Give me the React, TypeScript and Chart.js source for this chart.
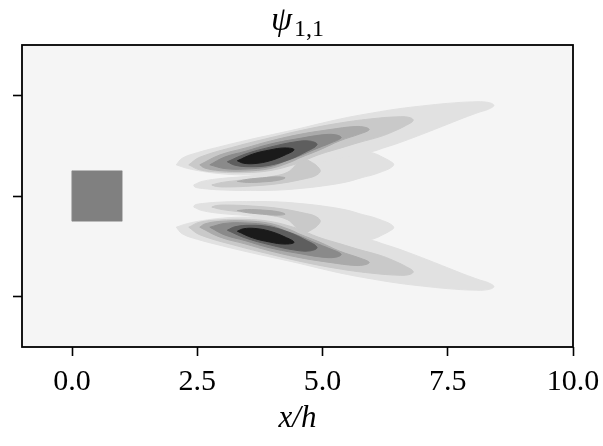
import React, { useEffect, useRef } from 'react';
import { Chart, registerables } from 'chart.js';

Chart.register(...registerables);

type Pt = [number, number];

// ---- axes ----
const X_MIN = -1;
const X_MAX = 10;
const Y_MIN = -3;
const Y_MAX = 3;
const xTickValues = [0, 2.5, 5, 7.5, 10];
const yTickValues = [-2, 0, 2];
const xAxisLabel = 'x/h';
const titleSymbol = 'ψ';
const titleSubscript = '1,1';

// ---- square cylinder ----
const bodyOutline: Pt[] = [[0, -0.5], [1, -0.5], [1, 0.5], [0, 0.5], [0, -0.5]];
const bodyColor = '#808080';

// ---- contour level colours (outer -> inner) ----
const fieldBackground = '#f5f5f5';
const levelColors = ['#e1e1e1', '#c9c9c9', '#aaaaaa', '#8a8a8a', '#5e5e5e', '#1a1a1a'];

// ---- upper lobe contour outlines (x/h, y/h) ----
const armL1: Pt[] = [
  [2.08, 0.62], [2.2, 0.75], [2.5, 0.86], [3.0, 0.99], [3.5, 1.11], [4.0, 1.22], [4.5, 1.33],
  [5.0, 1.45], [5.5, 1.56], [6.0, 1.65], [6.5, 1.73], [7.0, 1.79], [7.5, 1.84], [8.0, 1.87],
  [8.3, 1.86], [8.42, 1.8], [8.3, 1.72], [8.14, 1.67], [7.81, 1.55], [7.48, 1.42], [7.15, 1.29],
  [6.81, 1.16], [6.48, 1.04], [6.2, 0.95], [6.02, 0.89], [5.6, 0.8], [5.0, 0.68], [4.5, 0.56],
  [4.0, 0.45], [3.5, 0.42], [3.0, 0.44], [2.6, 0.49], [2.3, 0.55], [2.08, 0.62],
];
const fingerL1: Pt[] = [
  [2.43, 0.22], [2.6, 0.29], [3.0, 0.35], [3.5, 0.39], [4.0, 0.46], [4.5, 0.56], [5.0, 0.68],
  [5.5, 0.8], [5.9, 0.87], [6.05, 0.84], [6.2, 0.77], [6.35, 0.69], [6.42, 0.63], [6.36, 0.56],
  [6.2, 0.49], [6.0, 0.42], [5.8, 0.37], [5.48, 0.28], [5.0, 0.2], [4.55, 0.15], [4.15, 0.12],
  [3.66, 0.11], [3.0, 0.12], [2.6, 0.15], [2.45, 0.18], [2.43, 0.22],
];
const armL2: Pt[] = [
  [2.33, 0.62], [2.55, 0.77], [3.29, 0.99], [3.95, 1.155], [4.61, 1.31], [5.29, 1.44], [5.95, 1.53],
  [6.55, 1.575], [6.75, 1.555], [6.81, 1.5], [6.68, 1.41], [6.41, 1.28], [6.15, 1.18], [5.75, 1.07],
  [5.35, 0.95], [4.95, 0.83], [4.65, 0.71], [4.45, 0.63], [3.95, 0.505], [3.45, 0.465], [2.95, 0.475],
  [2.55, 0.52], [2.33, 0.62],
];
const fingerL2: Pt[] = [
  [2.79, 0.22], [3.0, 0.27], [3.5, 0.33], [4.0, 0.39], [4.3, 0.47], [4.45, 0.6], [4.6, 0.73],
  [4.8, 0.66], [4.93, 0.55], [4.95, 0.48], [4.85, 0.4], [4.68, 0.35], [4.15, 0.25], [3.6, 0.2],
  [3.1, 0.18], [2.88, 0.19], [2.79, 0.22],
];
const armL3: Pt[] = [
  [2.55, 0.62], [2.95, 0.815], [3.45, 0.95], [3.95, 1.09], [4.55, 1.225], [5.15, 1.32], [5.65, 1.38],
  [5.87, 1.36], [5.93, 1.315], [5.75, 1.235], [5.35, 1.1], [4.95, 0.92], [4.55, 0.76],
  [4.35, 0.67], [3.95, 0.545], [3.45, 0.495], [2.95, 0.505], [2.65, 0.555], [2.55, 0.62],
];
const fingerL3: Pt[] = [
  [3.3, 0.29], [3.5, 0.33], [3.8, 0.36], [4.1, 0.38], [4.25, 0.36], [4.1, 0.31], [3.8, 0.28],
  [3.5, 0.27], [3.3, 0.29],
];
const armL4: Pt[] = [
  [2.75, 0.62], [3.05, 0.775], [3.45, 0.885], [3.95, 1.03], [4.55, 1.145], [5.05, 1.22],
  [5.29, 1.21], [5.37, 1.155], [5.15, 1.05], [4.85, 0.93], [4.55, 0.8], [4.25, 0.69],
  [3.95, 0.585], [3.45, 0.535], [3.05, 0.545], [2.75, 0.62],
];
const armL5: Pt[] = [
  [3.1, 0.68], [3.45, 0.83], [3.95, 0.97], [4.45, 1.075], [4.75, 1.09], [4.89, 1.02],
  [4.65, 0.87], [4.35, 0.73], [3.95, 0.612], [3.55, 0.582], [3.25, 0.612], [3.1, 0.68],
];
const armL6: Pt[] = [
  [3.3, 0.7], [3.6, 0.83], [3.95, 0.915], [4.25, 0.955], [4.43, 0.92], [4.25, 0.815],
  [3.95, 0.7], [3.65, 0.645], [3.42, 0.652], [3.3, 0.7],
];

const upperLobe: { level: number; pts: Pt[] }[] = [
  { level: 0, pts: armL1 },
  { level: 0, pts: fingerL1 },
  { level: 1, pts: armL2 },
  { level: 1, pts: fingerL2 },
  { level: 2, pts: armL3 },
  { level: 2, pts: fingerL3 },
  { level: 3, pts: armL4 },
  { level: 4, pts: armL5 },
  { level: 5, pts: armL6 },
];
// the mode is mirror-symmetric in magnitude about y = 0
const lowerLobe = upperLobe.map((s) => ({ level: s.level, pts: s.pts.map(([x, y]) => [x, -y] as Pt) }));

const FONT = '"Liberation Serif", "Times New Roman", serif';

export default function App() {
  const ref = useRef<HTMLCanvasElement>(null);

  useEffect(() => {
    if (!ref.current) return;

    const shapeDatasets = [...upperLobe, ...lowerLobe].map((s) => ({
      data: s.pts.map(([x, y]) => ({ x, y })),
      showLine: true,
      fill: 'shape',
      backgroundColor: levelColors[s.level],
      borderColor: levelColors[s.level],
      borderWidth: 1,
      pointRadius: 0,
      pointHoverRadius: 0,
      tension: 0.4,
      order: 10 - s.level,
    }));

    const bodyDataset = {
      data: bodyOutline.map(([x, y]) => ({ x, y })),
      showLine: true,
      fill: 'shape',
      backgroundColor: bodyColor,
      borderColor: bodyColor,
      borderWidth: 0.5,
      pointRadius: 0,
      pointHoverRadius: 0,
      tension: 0,
      order: 0,
    };

    const backgroundPlugin = {
      id: 'fieldBackground',
      beforeDraw(chart: any) {
        const { ctx, chartArea: a } = chart;
        ctx.save();
        ctx.fillStyle = fieldBackground;
        ctx.fillRect(a.left, a.top, a.right - a.left, a.bottom - a.top);
        ctx.restore();
      },
    };

    const framePlugin = {
      id: 'frameAndTitle',
      afterDraw(chart: any) {
        const { ctx, chartArea: a } = chart;
        ctx.save();
        ctx.strokeStyle = '#000';
        ctx.lineWidth = 1.8;
        ctx.strokeRect(a.left, a.top, a.right - a.left, a.bottom - a.top);
        // title psi_{1,1}
        ctx.fillStyle = '#000';
        ctx.textBaseline = 'alphabetic';
        ctx.textAlign = 'left';
        ctx.font = `italic 34px ${FONT}`;
        const w1 = ctx.measureText(titleSymbol).width;
        ctx.font = `24px ${FONT}`;
        const w2 = ctx.measureText(titleSubscript).width;
        const cx = (a.left + a.right) / 2;
        const gap = 2;
        const x0 = cx - (w1 + w2 + gap) / 2;
        ctx.font = `italic 34px ${FONT}`;
        ctx.fillText(titleSymbol, x0, 30);
        ctx.font = `24px ${FONT}`;
        ctx.fillText(titleSubscript, x0 + w1 + gap, 36);
        ctx.restore();
      },
    };

    const chart = new Chart(ref.current, {
      type: 'scatter',
      data: { datasets: [...shapeDatasets, bodyDataset] as any },
      options: {
        responsive: false,
        animation: false,
        events: [],
        layout: { padding: { left: 0, right: 30, top: 45, bottom: 0 } },
        plugins: { legend: { display: false }, tooltip: { enabled: false }, title: { display: false } },
        scales: {
          x: {
            type: 'linear',
            min: X_MIN,
            max: X_MAX,
            afterBuildTicks: (s: any) => {
              s.ticks = xTickValues.map((v) => ({ value: v }));
            },
            afterFit: (s: any) => {
              s.height = 99;
              s.paddingLeft = 0;
              s.paddingRight = 0;
            },
            ticks: {
              callback: (v: any) => Number(v).toFixed(1),
              font: { family: FONT, size: 30 },
              color: '#000',
              padding: 8,
              maxRotation: 0,
              autoSkip: false,
            },
            grid: { drawOnChartArea: false, drawTicks: true, tickLength: 9, tickWidth: 1.6, tickColor: '#000' },
            border: { display: false },
            title: {
              display: true,
              text: xAxisLabel,
              font: { family: FONT, size: 31, style: 'italic' },
              color: '#000',
              padding: { top: 0, bottom: 9 },
            },
          },
          y: {
            type: 'linear',
            min: Y_MIN,
            max: Y_MAX,
            afterBuildTicks: (s: any) => {
              s.ticks = yTickValues.map((v) => ({ value: v }));
            },
            afterFit: (s: any) => {
              s.width = 22;
              s.paddingTop = 0;
              s.paddingBottom = 0;
            },
            ticks: { display: false },
            grid: { drawOnChartArea: false, drawTicks: true, tickLength: 9, tickWidth: 1.6, tickColor: '#000' },
            border: { display: false },
          },
        },
      } as any,
      plugins: [backgroundPlugin, framePlugin],
    });

    return () => chart.destroy();
  }, []);

  return (
    <div style={{ position: 'fixed', left: 0, top: 0, width: 603, height: 446 }}>
      <canvas ref={ref} width={603} height={446} style={{ display: 'block' }} />
    </div>
  );
}
